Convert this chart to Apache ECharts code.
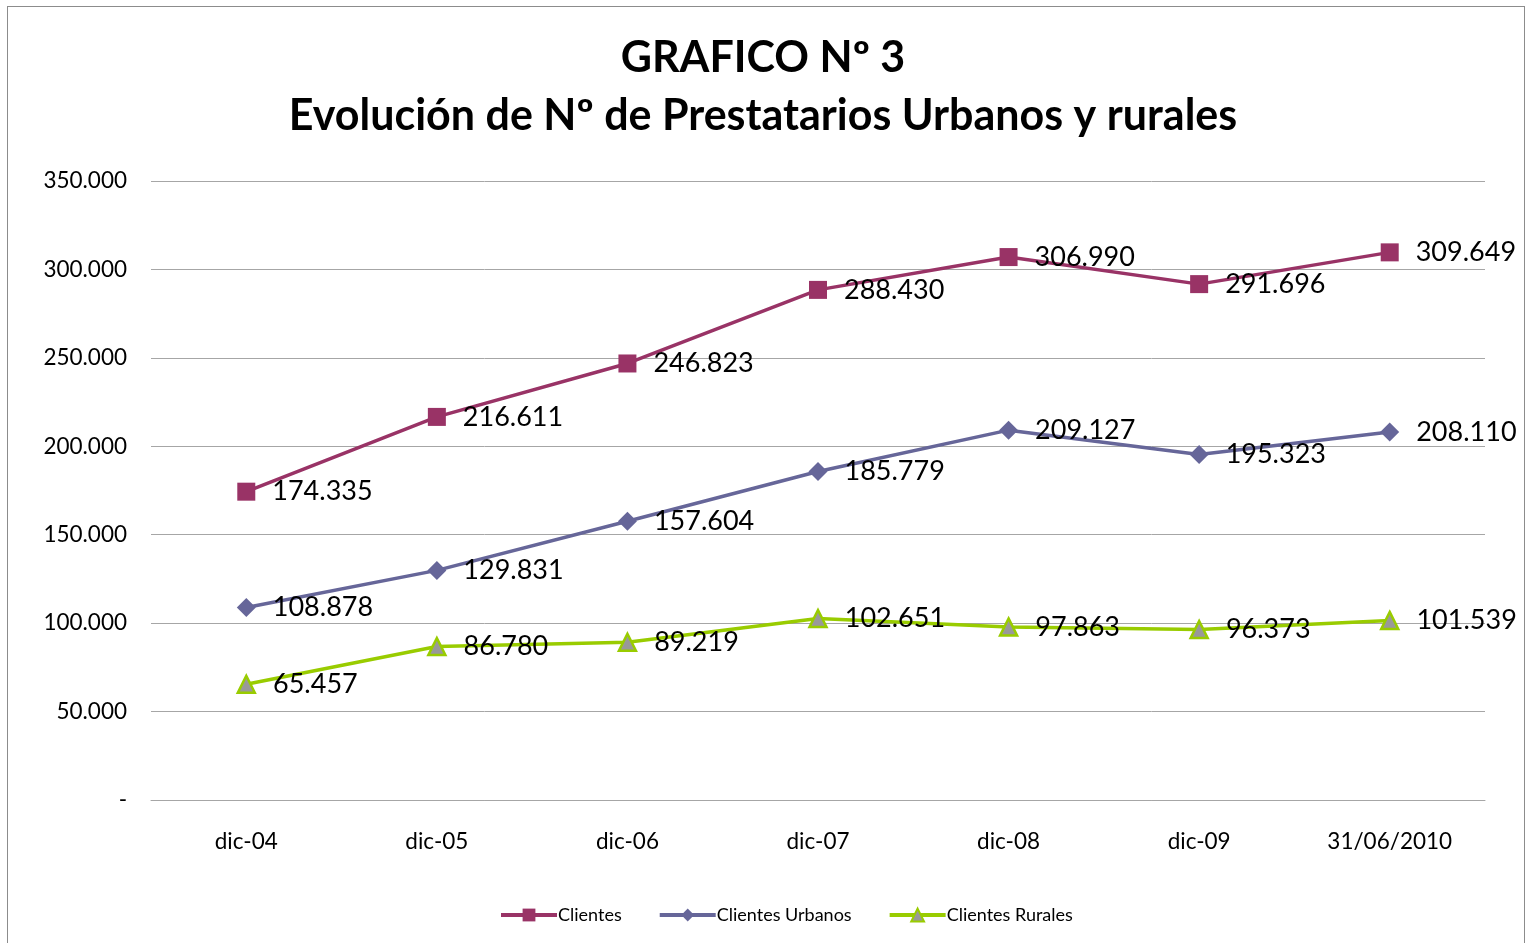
<!DOCTYPE html>
<html><head><meta charset="utf-8">
<script src="https://cdn.jsdelivr.net/npm/echarts@6/dist/echarts.min.js"></script>
<style>
html,body{margin:0;padding:0;background:#fff;}
#frame{position:absolute;left:7px;top:6px;width:1518px;height:960px;border:1px solid #8c8c8c;box-sizing:border-box;}
#c{position:absolute;left:0;top:0;width:1526px;height:943px;}
</style></head>
<body>
<div id="frame"></div>
<div id="c"></div>
<script>
const categories = ['dic-04','dic-05','dic-06','dic-07','dic-08','dic-09','31/06/2010'];
const clientes = [174335,216611,246823,288430,306990,291696,309649];
const clientesUrbanos = [108878,129831,157604,185779,209127,195323,208110];
const clientesRurales = [65457,86780,89219,102651,97863,96373,101539];
const seriesNames = ['Clientes','Clientes Urbanos','Clientes Rurales'];
const yTicks = {min:0,max:350000,interval:50000};

const FONT = 'Lato, "Open Sans", sans-serif';
function fmt(v){
  if(v===0) return '-';
  return String(Math.round(v)).replace(/\B(?=(\d{3})+(?!\d))/g,'.');
}
const lbl = {show:true,position:'right',distance:17,fontFamily:FONT,fontSize:27,color:'#000',
  formatter:p=>fmt(p.value)};

const chart = echarts.init(document.getElementById('c'),null,{renderer:'canvas'});
chart.setOption({
  animation:false,
  title:{text:'GRAFICO Nº 3\nEvolución de Nº de Prestatarios Urbanos y rurales',left:'center',top:24,
    textStyle:{fontFamily:FONT,fontSize:43,fontWeight:'bold',color:'#000',lineHeight:58}},
  grid:{left:151,right:41,top:181,bottom:143},
  legend:{bottom:14,left:494,itemWidth:56,itemHeight:16,itemGap:36,
    lineStyle:{width:4},
    textStyle:{fontFamily:FONT,fontSize:18,color:'#000',padding:[0,0,0,-4]},data:seriesNames},
  xAxis:{type:'category',data:categories,boundaryGap:true,
    axisLine:{show:true,lineStyle:{color:'#a6a6a6',width:1}},axisTick:{show:false},
    axisLabel:{fontFamily:FONT,fontSize:22.5,color:'#000',margin:30}},
  yAxis:{type:'value',min:yTicks.min,max:yTicks.max,interval:yTicks.interval,
    axisLine:{show:false},axisTick:{show:false},
    splitLine:{lineStyle:{color:'#a6a6a6',width:1}},
    axisLabel:{fontFamily:FONT,fontSize:22.5,color:'#000',margin:24,formatter:fmt}},
  series:[
    {name:seriesNames[0],type:'line',data:clientes,symbol:'rect',symbolSize:18,
      lineStyle:{color:'#993366',width:3.5},itemStyle:{color:'#993366'},label:lbl,z:3},
    {name:seriesNames[1],type:'line',data:clientesUrbanos,symbol:'diamond',symbolSize:19,
      lineStyle:{color:'#666699',width:3.5},itemStyle:{color:'#666699'},label:lbl,z:2},
    {name:seriesNames[2],type:'line',data:clientesRurales,symbol:'triangle',symbolSize:17,
      lineStyle:{color:'#99cc00',width:3.5},itemStyle:{color:'#999999',borderColor:'#99cc00',borderWidth:2.5},label:lbl,z:1}
  ]
});
</script>
</body></html>
